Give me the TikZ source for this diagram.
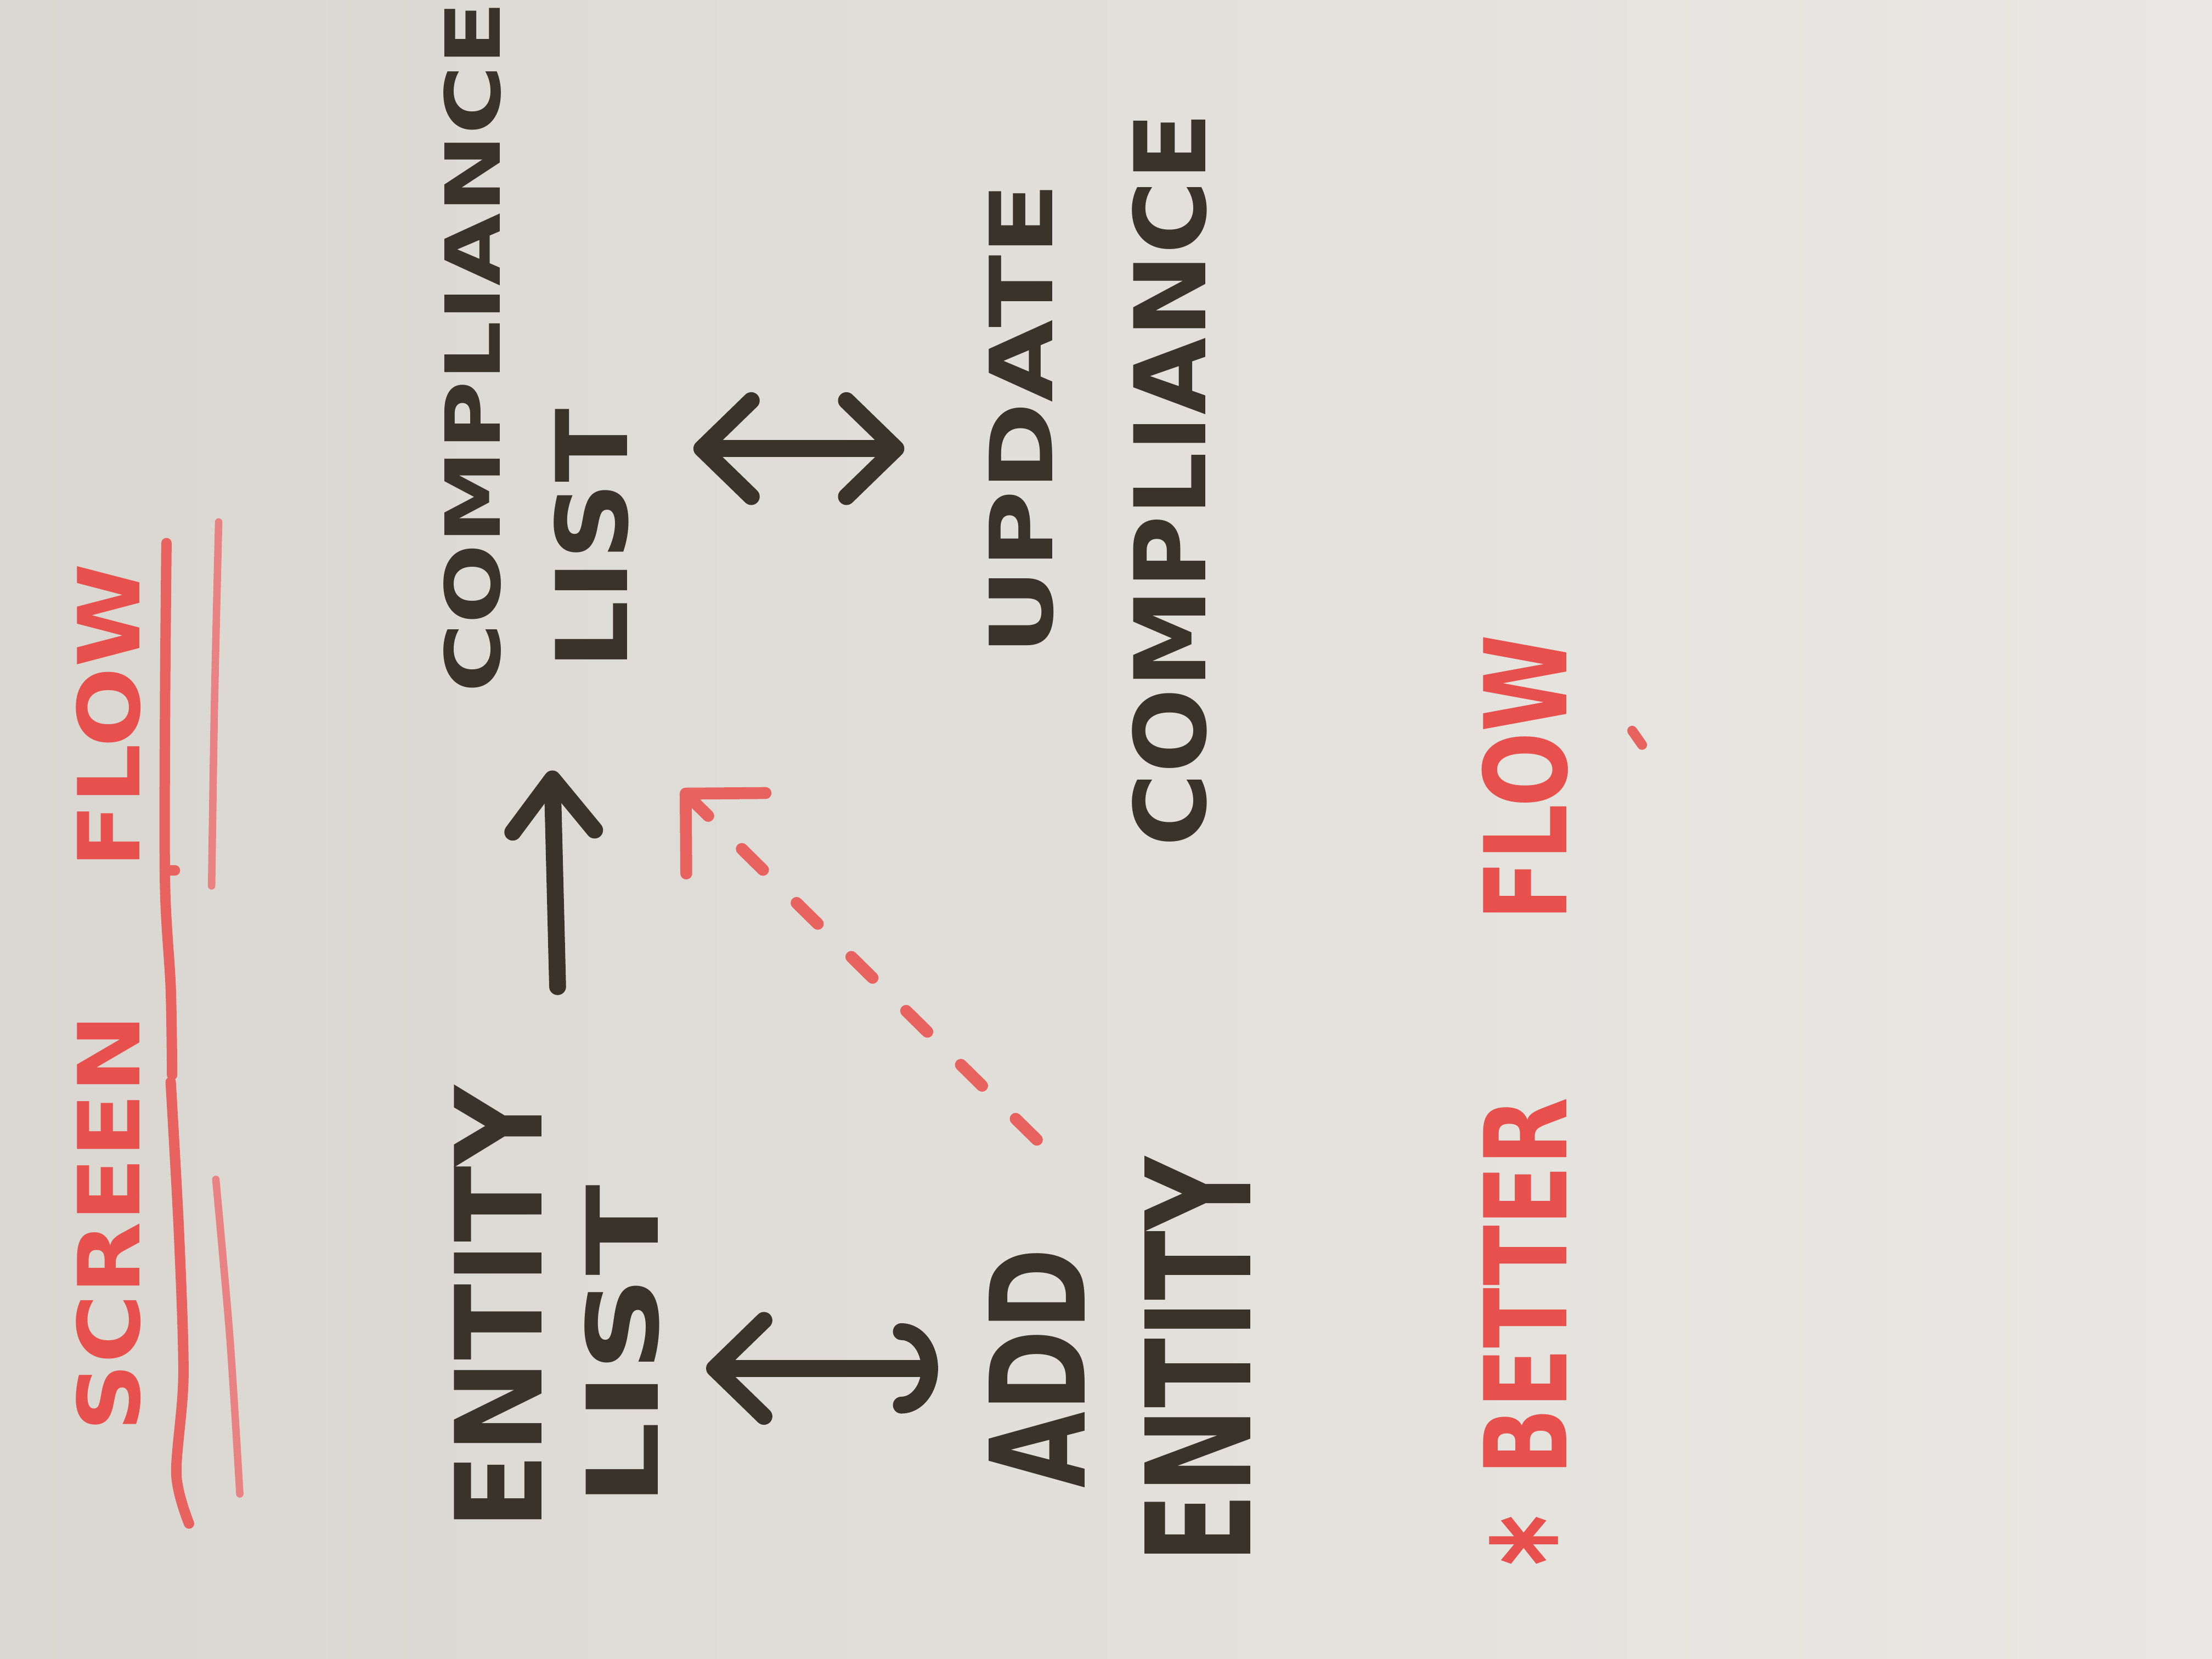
\documentclass[tikz,border=0pt]{standalone}
\usepackage{fontspec}
\setmainfont{DejaVu Sans}
\usepackage{graphicx}
\usetikzlibrary{arrows.meta}
\definecolor{ink}{HTML}{3A332A}
\definecolor{redink}{HTML}{E8504E}
\definecolor{redline}{HTML}{E8625F}
\definecolor{redpale}{HTML}{E98383}
\definecolor{bgl}{HTML}{DAD7D1}
\definecolor{bgr}{HTML}{EAE8E4}
\newcommand{\fw}[3]{\resizebox{#1}{#2}{\bfseries #3}}
\newcommand{\bigast}{\raisebox{-0.29em}[0pt][0pt]{\scalebox{1.1}[1.3]{*}}}
\begin{document}
\begin{tikzpicture}[x=0.01cm,y=-0.01cm,
  word/.style={rotate=90, inner sep=0pt, outer sep=0pt},
  blk/.style={word, text=ink},
  rd/.style={word, text=redink},
  inkline/.style={draw=ink, line width=3.4pt, line cap=round, line join=round},
  redarrow/.style={draw=redline, line width=2.4pt, line cap=round, dash pattern=on 6pt off 9.5pt},
  uline/.style={draw=redline, line width=2.1pt, line cap=round, line join=round},
  ulinethin/.style={draw=redpale, line width=1.5pt, line cap=round, line join=round},
  barbtip/.tip={Straight Barb[length=3.5mm,width=6.8mm,round]},
  hooktip/.tip={Arc Barb[length=2.6mm,width=6.4mm,round]}
]
\shade[left color=bgl, right color=bgr] (0,0) rectangle (1568,1176);
\useasboundingbox (0,0) rectangle (1568,1176);

% words
\node[blk] (c1) at (335,246) {\fw{4.9cm}{0.40cm}{COMPLIANCE}};
\node[blk] (l1) at (419,382) {\fw{1.85cm}{0.52cm}{LIST}};
\node[blk] (upd) at (724,297) {\fw{3.35cm}{0.45cm}{UPDATE}};
\node[blk] (c2) at (829,340) {\fw{5.2cm}{0.52cm}{COMPLIANCE}};
\node[blk] (e1) at (353,927) {\fw{3.15cm}{0.62cm}{ENTITY}};
\node[blk] (l2) at (441,954) {\fw{2.28cm}{0.52cm}{LIST}};
\node[blk] (add) at (735,970) {\fw{1.7cm}{0.68cm}{ADD}};
\node[blk] (e2) at (849,964) {\fw{2.88cm}{0.75cm}{ENTITY}};
\node[rd] (scr) at (77,707) {\fw{6.15cm}{0.45cm}{SCREEN\hspace{1.55em}FLOW}};
\node[rd] (bet) at (1081,780) {\fw{6.6cm}{0.6cm}{\bigast\hspace{0.45em}BETTER\hspace{2em}FLOW}};

% connectors
\draw[inkline, -{Straight Barb[length=3.7mm,width=5.8mm,round]},
      shorten <=0.7cm, shorten >=0.55cm]
  ([xshift=4.4mm]e1.east) -- ([xshift=5.5mm]c1.west);
\draw[inkline, barbtip-barbtip, shorten <=0.46cm, shorten >=0.6cm]
  (l1.south |- 0,318) -- (upd.north |- 0,318);
\draw[inkline, barbtip-hooktip, shorten <=0.33cm, shorten >=0.36cm]
  (l2.south |- 0,970) -- (add.north |- 0,970);
\draw[redarrow, -{Straight Barb[length=4mm,width=8mm,round]}]
  ([yshift=7.7mm]add.east) -- ([xshift=6.4mm,yshift=-8.5mm]l1.west);

% underlines of the title
\draw[uline] plot[smooth] coordinates {(118,385) (117,500) (117,628) (121,700) (122,762)};
\draw[uline] (117,617) -- (124,617);
\draw[uline] plot[smooth] coordinates {(121,767) (127,877) (130,976) (125,1045) (134,1080)};
\draw[ulinethin] plot[smooth] coordinates {(155,370) (152,500) (150,628)};
\draw[ulinethin] plot[smooth] coordinates {(153,836) (163,949) (170,1059)};

% small red speck
\draw[redline, line width=2pt, line cap=round] (1157,518) -- (1164,528);
\end{tikzpicture}
\end{document}
